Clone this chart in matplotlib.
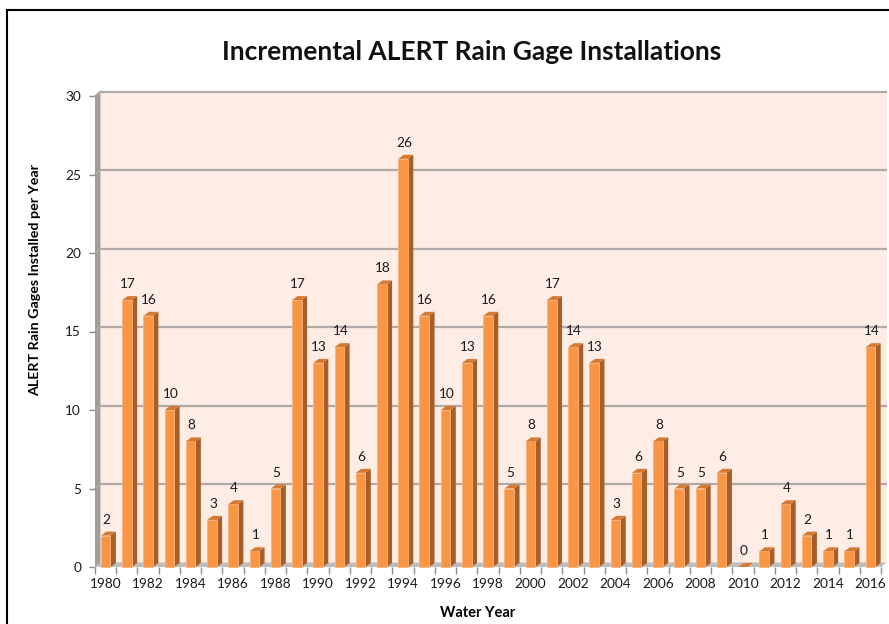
import matplotlib
matplotlib.use("Agg")
import matplotlib.pyplot as plt
from matplotlib.patches import Polygon, Rectangle
from matplotlib.lines import Line2D

years = list(range(1980, 2017))
values = [2, 17, 16, 10, 8, 3, 4, 1, 5, 17, 13, 14, 6, 18, 26, 16, 10, 13, 16, 5,
          8, 17, 14, 13, 3, 6, 8, 5, 5, 6, 0, 1, 4, 2, 1, 1, 14]
y_ticks = [0, 5, 10, 15, 20, 25, 30]
title = "Incremental ALERT Rain Gage Installations"
xlabel = "Water Year"
ylabel = "ALERT Rain Gages Installed per Year"

plt.rcParams['font.family'] = ['Lato', 'DejaVu Sans']

W, H = 889, 624
fig = plt.figure(figsize=(W / 100, H / 100), dpi=100)
fig.patch.set_facecolor('white')

L, R, B, T = 95, 881, 567, 96  # pixel bounds of front plane
ax = fig.add_axes([L / W, 1 - B / H, (R - L) / W, (B - T) / H])
n = len(years)
ax.set_xlim(-0.5, n - 0.5)
ax.set_ylim(0, 30)
ax.patch.set_visible(False)
for s in ax.spines.values():
    s.set_visible(False)

pxx = (R - L) / n        # px per x unit
pxy = (B - T) / 30.0     # px per y unit
wdx, wdy = 5.5 / pxx, 4.5 / pxy   # wall depth in data units
bdx, bdy = 5.5 / pxx, 4.0 / pxy   # bar depth

x0, x1 = -0.5, n - 0.5
# back wall
ax.add_patch(Rectangle((x0 + wdx, wdy), x1 - x0, 30, facecolor='#FDEDE5',
                       edgecolor='none', zorder=0, clip_on=False))
# side wall
ax.add_patch(Polygon([(x0, 0), (x0 + wdx, wdy), (x0 + wdx, 30 + wdy), (x0, 30)],
                     closed=True, facecolor='#A39C97', edgecolor='none',
                     zorder=1, clip_on=False))
# floor
ax.add_patch(Polygon([(x0, 0), (x1, 0), (x1 + wdx, wdy), (x0 + wdx, wdy)],
                     closed=True, facecolor='#BDBDBD', edgecolor='none',
                     zorder=1, clip_on=False))
# gridlines
for yv in y_ticks[1:]:
    ax.plot([x0 + wdx, x1 + wdx], [yv + wdy, yv + wdy], color='#B0AAA7', lw=1.6,
            zorder=2, clip_on=False, solid_capstyle='butt')
    ax.plot([x0, x0 + wdx], [yv, yv + wdy], color='#B0AAA7', lw=1.2,
            zorder=2, clip_on=False)

# bars
bw = 0.45
front_c, side_c, top_c = '#F89646', '#A95E28', '#D47A32'
for i, v in enumerate(values):
    xl, xr = i - bw / 2, i + bw / 2
    if v > 0:
        ax.add_patch(Polygon([(xr, 0), (xr + bdx, bdy), (xr + bdx, v + bdy), (xr, v)],
                             closed=True, facecolor=side_c, edgecolor='none',
                             zorder=3, clip_on=False))
        ax.add_patch(Rectangle((xl, 0), bw, v, facecolor=front_c,
                               edgecolor='#FBB27A', lw=0.6, zorder=4, clip_on=False))
    ax.add_patch(Polygon([(xl, v), (xr, v), (xr + bdx, v + bdy), (xl + bdx, v + bdy)],
                         closed=True, facecolor=top_c, edgecolor='none',
                         zorder=4, clip_on=False))
    ax.annotate(str(v), (i + 0.05, v), xytext=(0, 11.5), textcoords='offset points',
                ha='center', va='center', fontsize=9.8, color='#1a1a1a', zorder=6)

# y ticks
ax.set_yticks(y_ticks)
ax.set_yticklabels([str(t) for t in y_ticks], fontsize=9.8, color='#1a1a1a')
ax.tick_params(axis='y', length=4, width=1, color='#8C8C8C', pad=6)

# x ticks: labels at every other year, tick marks at category boundaries
ax.set_xticks(list(range(0, n, 2)))
ax.set_xticklabels([str(years[k]) for k in range(0, n, 2)], fontsize=9.8, color='#1a1a1a')
ax.tick_params(axis='x', length=0, pad=8)
ax.set_xticks([k - 0.5 for k in range(n + 1)], minor=True)
ax.tick_params(axis='x', which='minor', length=5, width=1, color='#8C8C8C')

ax.set_xlabel(xlabel, fontsize=10.5, fontweight='bold')
ax.xaxis.set_label_coords((478 - L) / (R - L), -(613 - B) / (B - T))
ax.set_ylabel(ylabel, fontsize=10.3, fontweight='bold')
ax.yaxis.set_label_coords(-(L - 35) / (R - L), 1 - (280 - T) / (B - T))
ax.xaxis.label.set_va('center')
ax.yaxis.label.set_va('center')

fig.text(472 / W, 1 - 52 / H, title, ha='center', va='center', fontsize=19,
         fontweight='bold', color='#111111')

# chart border
fig.add_artist(Line2D([7 / W, 1], [1 - 10 / H, 1 - 10 / H], transform=fig.transFigure,
                      color='black', lw=1.5))
fig.add_artist(Line2D([7 / W, 7 / W], [1 - 10 / H, 0], transform=fig.transFigure,
                      color='black', lw=1.5))

fig.savefig('out.png', dpi=100, facecolor='white')
